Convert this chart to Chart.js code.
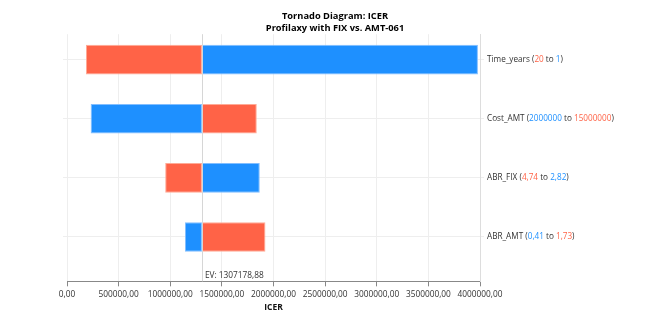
<!DOCTYPE html>
<html>
<head>
<meta charset="utf-8">
<script src="https://cdn.jsdelivr.net/npm/chart.js@4/dist/chart.umd.min.js"></script>
<style>
  body { margin: 0; background: #fff; }
</style>
</head>
<body>
<canvas id="tornado" width="664" height="324"></canvas>
<script>
// parameters, top to bottom
const parameters = ['Time_years', 'Cost_AMT', 'ABR_FIX', 'ABR_AMT'];
// parameter range ends, as labelled
const paramHigh = ['20', '15000000', '4,74', '1,73'];
const paramLow = ['1', '2000000', '2,82', '0,41'];
// ICER at the high / low parameter value
const icerAtHigh = [184000, 1838000, 951000, 1922000];
const icerAtLow = [3980000, 229000, 1867000, 1142000];
const expectedValue = 1307178.88;
const xTicks = [0, 500000, 1000000, 1500000, 2000000, 2500000, 3000000, 3500000, 4000000];

const RED = 'rgb(255, 99, 71)';
const BLUE = 'rgb(30, 144, 255)';
const TEXT = '#333';
const FONT = 'Open Sans';

const fmt = v => v.toFixed(2).replace('.', ',');

// the end giving the lower ICER is listed first
function labelParts(i) {
    const high = { text: paramHigh[i], color: RED };
    const low = { text: paramLow[i], color: BLUE };
    const first = icerAtHigh[i] <= icerAtLow[i] ? high : low;
    const second = first === high ? low : high;
    return [
        { text: parameters[i] + ' (', color: TEXT },
        first,
        { text: ' to ', color: TEXT },
        second,
        { text: ')', color: TEXT }
    ];
}

const rowTicks = scale => { scale.ticks = parameters.map((p, i) => ({ value: i })); };

const evPlugin = {
    id: 'evLine',
    afterDatasetsDraw: function(chart) {
        const ctx = chart.ctx;
        const area = chart.chartArea;
        const x = chart.scales.x.getPixelForValue(expectedValue);
        ctx.save();
        ctx.strokeStyle = '#d6d6d6';
        ctx.lineWidth = 1;
        ctx.beginPath();
        ctx.moveTo(Math.round(x) + 0.5, area.top);
        ctx.lineTo(Math.round(x) + 0.5, area.bottom);
        ctx.stroke();
        ctx.fillStyle = TEXT;
        ctx.font = '8.3px "' + FONT + '"';
        ctx.textBaseline = 'middle';
        ctx.fillText('EV: ' + fmt(expectedValue), x + 3, area.bottom - 6);
        ctx.restore();
    }
};

// coloured tick labels on the right axis
const rowLabelPlugin = {
    id: 'rowLabels',
    afterDraw: function(chart) {
        const ctx = chart.ctx;
        const scale = chart.scales.y;
        ctx.save();
        ctx.font = '8.2px "' + FONT + '"';
        ctx.textBaseline = 'middle';
        parameters.forEach((p, i) => {
            let x = scale.left + 4 + 3;
            const y = scale.getPixelForValue(i);
            for (const part of labelParts(i)) {
                ctx.fillStyle = part.color;
                ctx.fillText(part.text, x, y);
                x += ctx.measureText(part.text).width;
            }
        });
        ctx.restore();
    }
};

const highData = parameters.map((p, i) => ({ y: i, x: [expectedValue, icerAtHigh[i]] }));
const lowData = parameters.map((p, i) => ({ y: i, x: [expectedValue, icerAtLow[i]] }));

new Chart(document.getElementById('tornado'), {
    type: 'bar',
    data: {
        datasets: [
            {
                label: 'High',
                data: highData,
                backgroundColor: RED,
                borderColor: 'rgb(255, 170, 150)',
                borderWidth: 1,
                borderSkipped: false
            },
            {
                label: 'Low',
                data: lowData,
                backgroundColor: BLUE,
                borderColor: 'rgb(130, 190, 255)',
                borderWidth: 1,
                borderSkipped: false
            }
        ]
    },
    options: {
        responsive: false,
        animation: false,
        indexAxis: 'y',
        grouped: false,
        categoryPercentage: 1,
        barPercentage: 0.5,
        layout: { padding: { left: 6, right: 0, top: 0, bottom: 6 } },
        plugins: {
            legend: { display: false },
            tooltip: { enabled: false },
            title: {
                display: true,
                text: ['Tornado Diagram: ICER', 'Profilaxy with FIX vs. AMT-061'],
                color: '#000',
                font: { family: FONT, size: 9.3, weight: 'bold', lineHeight: 1.3 },
                padding: { top: 10, bottom: 0 }
            }
        },
        scales: {
            x: {
                type: 'linear',
                min: 0,
                max: 4000000,
                afterBuildTicks: scale => { scale.ticks = xTicks.map(v => ({ value: v })); },
                ticks: {
                    color: TEXT,
                    font: { family: FONT, size: 8.3 },
                    maxRotation: 0,
                    padding: 3,
                    callback: v => fmt(v)
                },
                grid: { color: '#eeeeee', tickColor: '#888', tickLength: 5 },
                border: { color: '#888' },
                title: {
                    display: true,
                    text: 'ICER',
                    color: '#111',
                    font: { family: FONT, size: 8.5, weight: 'bold' },
                    padding: { top: 0.5, bottom: 5 }
                }
            },
            y: {
                type: 'linear',
                position: 'right',
                reverse: true,
                offset: false,
                min: -0.43,
                max: 3.75,
                afterBuildTicks: rowTicks,
                afterFit: scale => { scale.width = 184; },
                ticks: {
                    color: 'rgba(0,0,0,0)',
                    font: { family: FONT, size: 8.2 },
                    callback: (v, i) => parameters[i] || ''
                },
                grid: { color: '#eeeeee', tickLength: 4, offset: false },
                border: { color: '#dddddd' }
            },
            yLeft: {
                type: 'linear',
                position: 'left',
                reverse: true,
                offset: false,
                min: -0.43,
                max: 3.75,
                afterBuildTicks: rowTicks,
                afterFit: scale => { scale.width = 61; },
                ticks: { display: false },
                grid: { color: '#eeeeee', tickLength: 4, drawOnChartArea: false, offset: false },
                border: { display: false }
            }
        }
    },
    plugins: [evPlugin, rowLabelPlugin]
});
</script>
</body>
</html>
